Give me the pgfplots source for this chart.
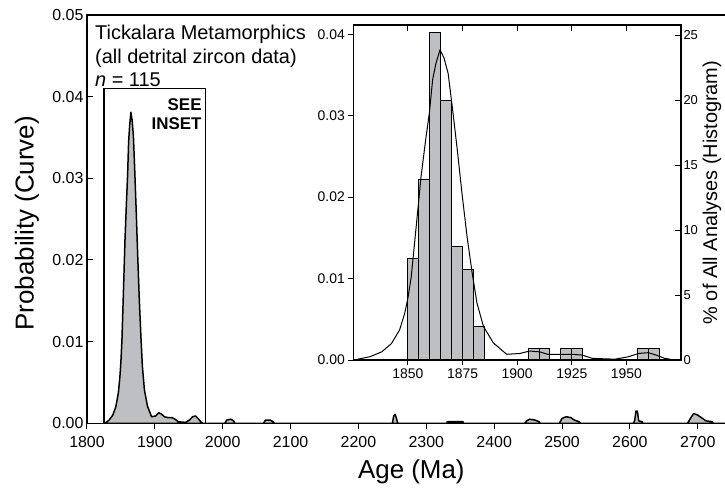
\documentclass[border=0pt]{standalone}
\usepackage{fontspec}
\setmainfont{Liberation Sans}
\usepackage{pgfplots}
\pgfplotsset{compat=1.18}
\definecolor{histgray}{RGB}{190,191,195}

\begin{document}
\begin{tikzpicture}
\useasboundingbox (-87bp,-64.7bp) rectangle (638bp,423.3bp);
% main panel: whole age range
\begin{axis}[
  at={(0,0)}, anchor=south west, scale only axis,
  width=641bp, height=408.3bp,
  xmin=1800, xmax=2744.6, ymin=0, ymax=0.05,
  xtick={1800,1900,2000,2100,2200,2300,2400,2500,2600,2700},
  ytick={0,0.01,0.02,0.03,0.04,0.05},
  xtick pos=bottom, ytick pos=left,
  xtick align=outside, ytick align=inside,
  major tick length=6bp,
  axis line style={line width=1.1bp},
  every tick/.style={line width=1bp, black},
  /pgf/number format/assume math mode=true,
  xticklabel style={/pgf/number format/1000 sep={}, yshift=-4bp},
  yticklabel style={/pgf/number format/fixed, /pgf/number format/fixed zerofill,
    /pgf/number format/precision=2},
  scaled y ticks=false,
  tick label style={font=\fontsize{16}{16}\selectfont},
  xlabel={Age (Ma)}, ylabel={Probability (Curve)},
  label style={font=\fontsize{26}{26}\selectfont},
  xlabel style={at={(axis description cs:0.506,0)}, anchor=center, yshift=-49bp},
  ylabel style={at={(axis description cs:0,0.49)}, anchor=center, yshift=60bp},
]
\addplot[draw=black, line width=1.5bp, line join=round, fill=histgray] coordinates {
 (1824,0)(1828,0.0001)(1832.6,0.0004)(1838,0.001)(1842.4,0.002)(1846.2,0.0037)
 (1848.5,0.0057)(1850,0.0076)(1851.5,0.0102)(1853.8,0.0164)(1856,0.0225)
 (1858.3,0.0274)(1859.8,0.0303)(1861.3,0.0344)(1862.8,0.0364)(1864.7,0.0381)
 (1866.5,0.0371)(1868.4,0.0352)(1870.3,0.0311)(1872.6,0.0258)(1874.9,0.0201)
 (1877.1,0.0151)(1879.4,0.0107)(1881.6,0.007)(1884.6,0.0041)(1889.1,0.0021)
 (1895.2,0.0008)(1901.2,0.0009)(1905.7,0.0013)(1910.3,0.0011)(1914,0.0008)
 (1919.3,0.0007)(1925.3,0.0007)(1929.8,0.0005)(1934.4,0.0002)(1944.9,0.0001)
 (1951,0.0004)(1955.5,0.0008)(1960,0.0009)(1963.7,0.0006)(1967.5,0.0002)(1971,0)
 (2003,0)(2006,0.0004)(2012,0.0005)(2016,0.0003)(2018,0)
 (2060,0)(2063,0.0004)(2070,0.0004)(2074,0.0002)(2076,0)
 (2250,0)(2252,0.0009)(2254,0.0011)(2256,0.0006)(2258,0)
 (2330,0)(2331,0.0002)(2354,0.0002)(2355,0)
 (2445,0)(2448,0.0003)(2452,0.0005)(2460,0.0004)(2466,0.0002)(2468,0)
 (2496,0)(2500,0.0006)(2506,0.0008)(2513,0.0007)(2518,0.0004)(2525,0.0002)(2528,0)
 (2605,0)(2607,0.0003)(2609,0.0015)(2611,0.0015)(2613,0.0003)(2618,0.0002)(2619,0)
 (2685,0)(2690,0.0007)(2694,0.0012)(2700,0.0010)(2707,0.0006)(2712,0.0003)(2721,0.0002)(2723,0)
 (2744,0)
} \closedcycle;
\draw[line width=1.2bp] (axis cs:1825,0) rectangle (axis cs:1975,0.041);
\node[anchor=north east, align=right, inner sep=0pt,
  font=\bfseries\fontsize{17}{19}\selectfont]
  at ([xshift=-4bp,yshift=-10bp]axis cs:1975,0.041) {SEE\\INSET};
\node[anchor=north west, align=left, inner sep=0pt,
  font=\fontsize{20}{23.5}\selectfont]
  at ([xshift=8bp,yshift=-10bp]rel axis cs:0,1)
  {Tickalara Metamorphics\\(all detrital zircon data)\\\textit{n} = 115};
\end{axis}

% inset: histogram on right axis
\begin{axis}[
  at={(266.3bp,63.3bp)}, anchor=south west, scale only axis,
  width=327.7bp, height=335bp,
  xmin=1825, xmax=1975, ymin=0, ymax=25.77,
  axis background/.style={fill=white},
  tick align=inside, xtick pos=top, ytick pos=right,
  xtick={1850,1875,1900,1925,1950}, xticklabels={},
  ytick={0,5,10,15,20,25}, yticklabel pos=right,
  major tick length=6bp,
  axis line style={line width=1.1bp},
  every tick/.style={line width=1bp, black},
  /pgf/number format/assume math mode=true,
  tick label style={font=\fontsize{13}{13}\selectfont},
  yticklabel style={xshift=-1bp},
  ylabel={\% of All Analyses (Histogram)},
  ylabel style={font=\fontsize{20}{20}\selectfont, at={(axis description cs:1,0.5)},
    anchor=center, yshift=-31bp},
]
\addplot[ybar interval, fill=histgray, draw=black, line width=1bp] coordinates {
 (1850,7.83)(1855,13.91)(1860,25.22)(1865,20.0)(1870,8.70)(1875,6.96)(1880,2.61)
 (1885,0)(1905,0.87)(1910,0.87)(1915,0)(1920,0.87)(1925,0.87)(1930,0)
 (1955,0.87)(1960,0.87)(1965,0)
};
\end{axis}

% inset: probability curve on left axis
\begin{axis}[
  at={(266.3bp,63.3bp)}, anchor=south west, scale only axis,
  width=327.7bp, height=335bp,
  xmin=1825, xmax=1975, ymin=0, ymax=0.04114,
  tick align=outside, xtick pos=bottom, ytick pos=left,
  xtick={1850,1875,1900,1925,1950},
  ytick={0,0.01,0.02,0.03,0.04},
  major tick length=5bp,
  axis line style={line width=1.1bp},
  every tick/.style={line width=1bp, black},
  /pgf/number format/assume math mode=true,
  xticklabel style={/pgf/number format/1000 sep={}},
  yticklabel style={/pgf/number format/fixed, /pgf/number format/fixed zerofill,
    /pgf/number format/precision=2},
  scaled y ticks=false,
  tick label style={font=\fontsize{14}{14}\selectfont},
]
\addplot[draw=black, line width=1bp, line join=round] coordinates {
 (1827,0.0001)(1832.6,0.0004)(1838,0.001)(1842.4,0.002)(1846.2,0.0037)
 (1848.5,0.0057)(1850,0.0076)(1851.5,0.0102)(1853.8,0.0164)(1856,0.0225)
 (1858.3,0.0274)(1859.8,0.0303)(1861.3,0.0344)(1862.8,0.0364)(1864.7,0.0381)
 (1866.5,0.0371)(1868.4,0.0352)(1870.3,0.0311)(1872.6,0.0258)(1874.9,0.0201)
 (1877.1,0.0151)(1879.4,0.0107)(1881.6,0.007)(1884.6,0.0041)(1889.1,0.0021)
 (1895.2,0.0007)(1901.2,0.0008)(1905.7,0.0011)(1910.3,0.001)(1914,0.0007)
 (1919.3,0.0007)(1925.3,0.0007)(1929.8,0.0006)(1934.4,0.0002)(1944.9,0.0001)
 (1951,0.0004)(1955.5,0.0008)(1960,0.0009)(1963.7,0.0006)(1967.5,0.0002)(1970,0.0001)
};
\end{axis}
\end{tikzpicture}
\end{document}
